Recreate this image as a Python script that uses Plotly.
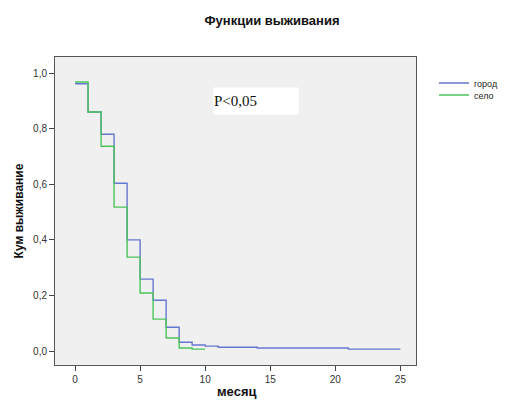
import plotly.graph_objects as go

# Data
city_time = [0, 1, 2, 3, 4, 5, 6, 7, 8, 9, 10, 11, 14, 21, 25]
city_surv = [0.962, 0.86, 0.78, 0.604, 0.40, 0.259, 0.183, 0.086, 0.032, 0.022, 0.018, 0.014, 0.011, 0.007, 0.007]
village_time = [0, 1, 2, 3, 4, 5, 6, 7, 8, 9, 10]
village_surv = [0.968, 0.86, 0.737, 0.518, 0.338, 0.209, 0.115, 0.047, 0.011, 0.007, 0.007]
series_names = ["город", "село"]
x_ticks = [0, 5, 10, 15, 20, 25]
y_ticks = [0.0, 0.2, 0.4, 0.6, 0.8, 1.0]

fig = go.Figure()
fig.add_trace(go.Scatter(x=city_time, y=city_surv, mode="lines", name=series_names[0],
                         legend="legend",
                         line=dict(shape="hv", color="#6577cf", width=1.4)))
fig.add_trace(go.Scatter(x=village_time, y=village_surv, mode="lines", name=series_names[1],
                         legend="legend2",
                         line=dict(shape="hv", color="#4cc45c", width=1.4)))

leg_common = dict(xanchor="left", yanchor="middle", bgcolor="rgba(0,0,0,0)",
                  font=dict(size=9, color="#222"), itemwidth=30)
fig.update_layout(
    width=512, height=401,
    margin=dict(l=55, r=96, t=57, b=36, autoexpand=False),
    paper_bgcolor="white", plot_bgcolor="#f0f0f0",
    separators=", ",
    font=dict(family="Liberation Sans, Arial, sans-serif", size=10, color="#333"),
    title=dict(text="<b>Функции выживания</b>", x=272/512, xanchor="center",
               y=1 - 20/401, yanchor="middle",
               font=dict(size=13, color="#111")),
    legend=dict(x=(434 - 55) / 361, y=(365 - 83) / 308, **leg_common),
    legend2=dict(x=(434 - 55) / 361, y=(365 - 95) / 308, **leg_common),
    showlegend=True,
)
fig.update_xaxes(range=[-1.54, 26.2], tickvals=x_ticks, ticks="outside", ticklen=5,
                 tickcolor="#444", showgrid=False, zeroline=False, showline=True,
                 linecolor="#555", linewidth=1, mirror=True, automargin=False,
                 tickfont=dict(size=10, color="#333"))
fig.update_yaxes(range=[-0.05, 1.058], tickvals=y_ticks, tickformat=".1f", ticks="outside",
                 ticklen=5, tickcolor="#444", showgrid=False, zeroline=False, showline=True,
                 linecolor="#555", linewidth=1, mirror=True, automargin=False,
                 tickfont=dict(size=10, color="#333"),
                 title=dict(text="<b>Кум выживание</b>", font=dict(size=12, color="#111"),
                            standoff=6))

fig.add_annotation(xref="paper", yref="paper", x=(213 - 55) / 361, y=(365 - 87) / 308,
                   xanchor="left", yanchor="top", text="P&lt;0,05", showarrow=False,
                   width=84, height=26, align="left", bgcolor="white", borderpad=0,
                   font=dict(family="Liberation Serif, Times New Roman, serif", size=15, color="#111"))
fig.add_annotation(xref="paper", yref="paper", x=(237 - 55) / 361, y=-(382 - 365) / 308,
                   xanchor="center", yanchor="top", text="<b>месяц</b>", showarrow=False,
                   font=dict(size=13, color="#111"))

fig.write_html("out.html", config={"displayModeBar": False},
               post_script="document.body.style.margin='0';")
